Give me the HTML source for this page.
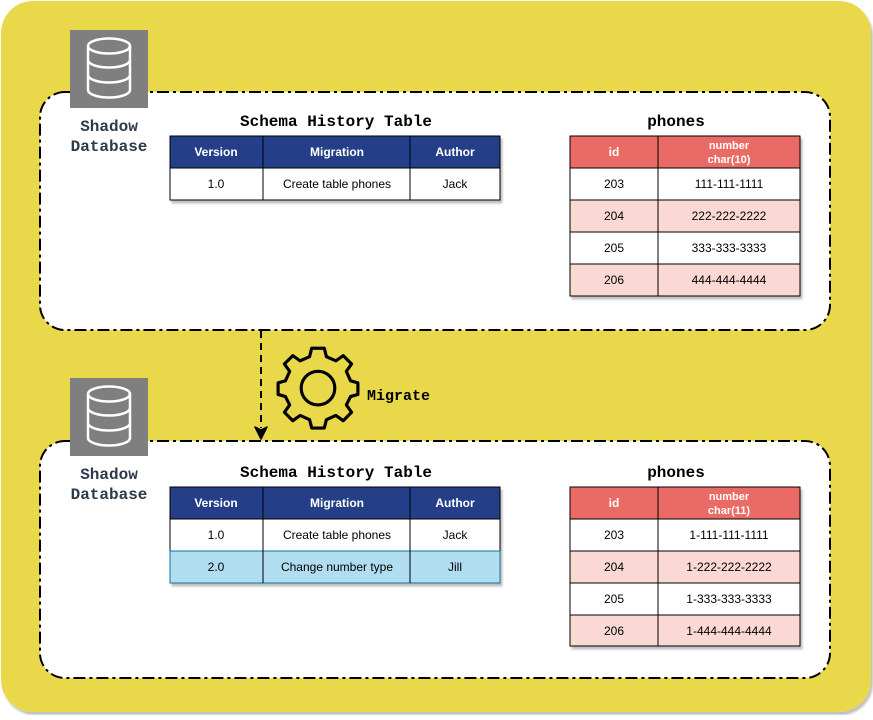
<!DOCTYPE html>
<html><head><meta charset="utf-8"><style>
html,body{margin:0;padding:0;background:#fff;}
svg text{font-family:"Liberation Sans",sans-serif;}
.h{font-family:"Liberation Mono","DejaVu Sans Mono",monospace;}
</style></head><body>
<svg width="873" height="715" viewBox="0 0 873 715" xmlns="http://www.w3.org/2000/svg">
<defs><filter id="sh"><feDropShadow dx="2" dy="3" stdDeviation="1" flood-color="#000" flood-opacity="0.25"/></filter></defs>
<rect x="1" y="1" width="870" height="711" rx="32" fill="#E9D84A" filter="url(#sh)"/>
<rect x="40" y="92" width="790" height="238" rx="25" fill="#fff" stroke="#000" stroke-width="2" stroke-dasharray="12 4 3 4"/>
<rect x="40" y="441" width="790" height="237" rx="25" fill="#fff" stroke="#000" stroke-width="2" stroke-dasharray="12 4 3 4"/>
<g id="db">
<rect x="70" y="30" width="78" height="78" fill="#7f7f7f"/>
<g fill="none" stroke="#fff" stroke-width="2.5">
<ellipse cx="109" cy="46" rx="21" ry="7.5"/>
<path d="M88 46 V90 A21 7.5 0 0 0 130 90 V46 M88 60 A21 7.5 0 0 0 130 60 M88 75 A21 7.5 0 0 0 130 75"/>
</g>
</g>
<use href="#db" y="348"/>
<g font-size="16" font-weight="bold" fill="#2d3a4a" text-anchor="middle">
<text x="109" y="131" class="h">Shadow</text><text x="109" y="151" class="h">Database</text>
<text x="109" y="479" class="h">Shadow</text><text x="109" y="499" class="h">Database</text>
</g>
<line x1="261" y1="331" x2="261" y2="428" stroke="#000" stroke-width="2" stroke-dasharray="7 5"/>
<path d="M255 427 L261 439 L267 427 L261 430 Z" fill="#000" stroke="#000" stroke-width="1.5" stroke-linejoin="round"/>
<g transform="translate(318,385) scale(1.05)" fill="none" stroke="#000" stroke-width="3" stroke-linejoin="round">
<path d="M-6 -35 L6 -35 L8 -27 L17 -23 L24 -28 L32 -20 L27 -13 L31 -4 L38 -2 L38 9 L31 11 L27 19 L32 26 L24 34 L17 29 L8 33 L6 41 L-6 41 L-8 33 L-17 29 L-24 34 L-32 26 L-27 19 L-31 11 L-38 9 L-38 -2 L-31 -4 L-27 -13 L-32 -20 L-24 -28 L-17 -23 L-8 -27 Z"/>
<circle cx="0" cy="3" r="16"/>
</g>
<text x="367" y="400" font-size="15" class="h" font-weight="bold">Migrate</text>
<g font-size="16" font-weight="bold" text-anchor="middle">
<text x="336" y="126" class="h">Schema History Table</text>
<text x="676" y="126" class="h">phones</text>
<text x="336" y="477" class="h">Schema History Table</text>
<text x="676" y="477" class="h">phones</text>
</g>
<g font-size="12" text-anchor="middle">
<g filter="url(#sh)"><rect x="170" y="136" width="330" height="64" fill="#fff" stroke="#000"/></g>
<rect x="170" y="136" width="330" height="32" fill="#243F87" stroke="#000"/>
<line x1="263" y1="136" x2="263" y2="200" stroke="#000"/><line x1="410" y1="136" x2="410" y2="200" stroke="#000"/>
<g fill="#fff" font-weight="bold"><text x="216" y="156">Version</text><text x="337" y="156">Migration</text><text x="455" y="156">Author</text></g>
<text x="216" y="188">1.0</text><text x="337" y="188">Create table phones</text><text x="455" y="188">Jack</text>
</g>
<g font-size="12" text-anchor="middle">
<g filter="url(#sh)"><rect x="170" y="487" width="330" height="96" fill="#fff" stroke="#000"/></g>
<rect x="170" y="487" width="330" height="32" fill="#243F87" stroke="#000"/>
<rect x="170" y="551" width="330" height="32" fill="#B1DDF0" stroke="#10739E"/>
<line x1="170" y1="519" x2="500" y2="519" stroke="#000"/>
<line x1="263" y1="487" x2="263" y2="583" stroke="#000"/><line x1="410" y1="487" x2="410" y2="583" stroke="#000"/>
<g fill="#fff" font-weight="bold"><text x="216" y="507">Version</text><text x="337" y="507">Migration</text><text x="455" y="507">Author</text></g>
<text x="216" y="539">1.0</text><text x="337" y="539">Create table phones</text><text x="455" y="539">Jack</text>
<text x="216" y="571">2.0</text><text x="337" y="571">Change number type</text><text x="455" y="571">Jill</text>
</g>
<g font-size="12" text-anchor="middle">
<g filter="url(#sh)"><rect x="570" y="136" width="230" height="160" fill="#fff" stroke="#000"/></g>
<rect x="570" y="136" width="230" height="32" fill="#EA6B66" stroke="#000"/>
<rect x="570" y="200" width="230" height="32" fill="#FAD9D5" stroke="#000"/>
<rect x="570" y="264" width="230" height="32" fill="#FAD9D5" stroke="#000"/>
<line x1="570" y1="232" x2="800" y2="232" stroke="#000"/>
<line x1="658" y1="136" x2="658" y2="296" stroke="#000"/>
<g fill="#fff" font-weight="bold"><text x="614" y="156">id</text><text x="729" y="149" font-size="11">number</text><text x="729" y="163" font-size="11">char(10)</text></g>
<text x="614" y="188">203</text><text x="729" y="188">111-111-1111</text>
<text x="614" y="220">204</text><text x="729" y="220">222-222-2222</text>
<text x="614" y="252">205</text><text x="729" y="252">333-333-3333</text>
<text x="614" y="284">206</text><text x="729" y="284">444-444-4444</text>
</g>
<g font-size="12" text-anchor="middle">
<g filter="url(#sh)"><rect x="570" y="487" width="230" height="159" fill="#fff" stroke="#000"/></g>
<rect x="570" y="487" width="230" height="32" fill="#EA6B66" stroke="#000"/>
<rect x="570" y="551" width="230" height="32" fill="#FAD9D5" stroke="#000"/>
<rect x="570" y="615" width="230" height="31" fill="#FAD9D5" stroke="#000"/>
<line x1="570" y1="583" x2="800" y2="583" stroke="#000"/>
<line x1="658" y1="487" x2="658" y2="646" stroke="#000"/>
<g fill="#fff" font-weight="bold"><text x="614" y="507">id</text><text x="729" y="500" font-size="11">number</text><text x="729" y="514" font-size="11">char(11)</text></g>
<text x="614" y="539">203</text><text x="729" y="539">1-111-111-1111</text>
<text x="614" y="571">204</text><text x="729" y="571">1-222-222-2222</text>
<text x="614" y="603">205</text><text x="729" y="603">1-333-333-3333</text>
<text x="614" y="635">206</text><text x="729" y="635">1-444-444-4444</text>
</g>
</svg>
</body></html>
